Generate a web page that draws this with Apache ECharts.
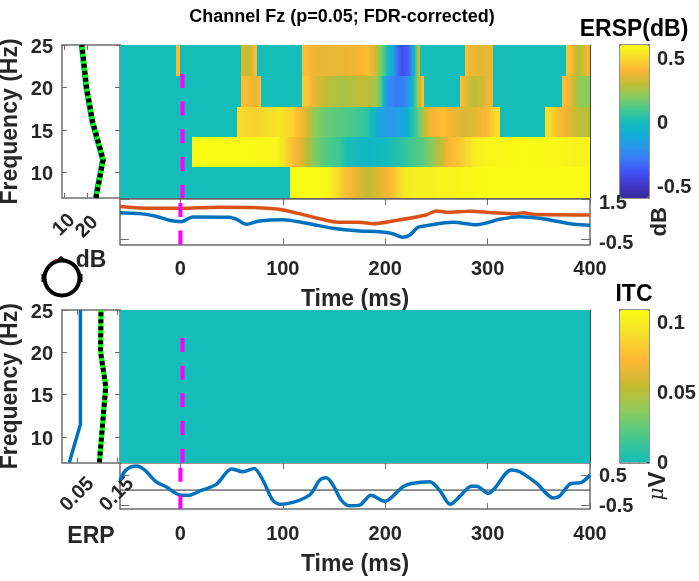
<!DOCTYPE html>
<html><head><meta charset="utf-8">
<style>html,body{margin:0;padding:0;background:#fff}#c{width:699px;height:581px}</style>
<script src="https://cdn.jsdelivr.net/npm/echarts@6/dist/echarts.min.js"></script>
</head><body><div id="c"></div>
<script>
// ---- data ----
const timeMin = -59, timeMax = 400;
const timeTicks = [0, 100, 200, 300, 400];
const freqTicks = [10, 15, 20, 25];
const freqEdges = [7, 10.6, 14.2, 17.7, 21.4, 25];
// ERSP cells: [start time, dB], each lasting until the next start; exactly 0 = masked (not significant)
const ersp8 = [[-59,0],[107,.6],[139,.58],[151,.47],[162,.38],[175,.3],[190,.35],[201,.42],[211,.5],[219,.6]];
const ersp12 = [[-59,0],[11,.6],[87,.58],[100,.47],[110,.38],[120,.28],[128,.18],[136,.12],[149,.08],[162,-.05],[196,-.01],[209,.05],[226,.13],[245,.25],[255,.38],[266.5,.45],[281,.55],[294,.6],[372,.57]];
const ersp16 = [[-59,0],[55.4,.5],[64,.47],[84,.53],[110,.42],[120,.33],[128,.2],[136,.15],[149,.12],[170,.08],[180,.04],[186,-.05],[193,-.2],[212.5,-.15],[221,-.05],[225,.08],[234,.25],[240,.38],[248,.42],[266.5,.33],[289,.38],[297,.42],[304,.5],[312.5,0],[356.5,.5],[365,.42],[375,.35],[385,.28]];
const ersp20 = [[-59,0],[59.6,.42],[67.5,.36],[75.5,.42],[79,0],[119,.45],[128,.33],[142,.25],[170,.3],[190,.2],[194,.12],[198,-.15],[203,-.3],[219,-.22],[224,-.05],[229,.2],[234,.42],[237.5,0],[273.5,.42],[277.7,.28],[295.6,.38],[305,0],[372.8,.42],[380,.33],[385,.2]];
const ersp24 = [[-59,0],[-4.2,.42],[0,0],[59.6,.33],[64,.3],[71,.42],[75,0],[119,.42],[127,.36],[149,.37],[175,.42],[190,.25],[195,.13],[201,-.03],[206,-.15],[211,-.42],[222,-.3],[226,-.1],[230,.3],[234,0],[278,.42],[283,.35],[301,.38],[305.5,0],[376.4,.43],[384,.28],[389,.3],[395,.38]];
const itcRow = [[-59,0]];
// power spectrum (dB vs Hz)
const specFreq = [7, 11.5, 16, 20, 25];
const specDb = [23.9, 27, 22.4, 19.8, 17.8];
const specBase = [23.6, 26.7, 22.1, 19.5, 17.5];
// ITC marginal
const itcFreq = [7, 11.5, 16, 20, 25];
const itcErp = [.03, .058, .058, .058, .058];
const itcSig = [.106, .114, .122, .109, .11];
// time courses
const ersp1 = [[-59,1.14],[-40,1.075],[-1,1.06],[38,1.11],[71,1.09],[100,.975],[129,.625],[155,.36],[175,.36],[188,.29],[207.6,.425],[240,.725],[250,.925],[260,.86],[282.5,.91],[305,.84],[328,.79],[335,.84],[344,.76],[400,.725]];
const ersp2 = [[-59,.84],[-40,.79],[-24,.66],[-11,.46],[1,.39],[12,.625],[48,.61],[56,.475],[64,.26],[77,.425],[100,.49],[123,.31],[149,.06],[175,-.075],[194.5,-.11],[207.6,-.21],[217,-.39],[224,-.275],[232,.11],[240,.19],[266,.36],[289,.24],[312,.51],[331,.64],[351,.56],[384,.26],[400,.21]];
const erp = [[-59,.33],[-53,.67],[-43,.8],[-35,.67],[-24,.28],[-14,.11],[.6,-.17],[9,-.17],[19,-.03],[35,.19],[50,.7],[61,.61],[72,.72],[80.5,.33],[90,-.33],[97,-.47],[103,-.46],[126,-.17],[136,.33],[142.5,.41],[149,.17],[157,-.33],[165,-.52],[175,-.5],[186,-.17],[199.4,-.37],[217.4,.11],[225.6,.22],[243.4,.28],[253,0],[263.5,-.47],[272.7,-.22],[284,.13],[289,.13],[301,-.11],[307,.06],[323,.67],[331.5,.61],[348,.22],[364,-.26],[370.6,-.19],[380.5,.2],[392,.26],[400,.5]];
const colormap = ['#3a2a9a','#4038c8','#4050f5','#3a78f8','#2a98ea','#10aed6','#14bdb8','#45c98c','#8ccb5c','#c4bb30','#fdb534','#f7dc2c','#f9fb15'];
// ---- drawing ----
const FONT = 'Liberation Sans', INK = '#262626', BOX = '#6e6e6e', DARK = '#404040';
const BLUE = '#0072BD', ORANGE = '#D95319', MAG = '#ff00ff';
const L = 120, W = 470, ML = 62, MW = 58;
const grids = [
  {left:ML,top:45,width:MW,height:153},{left:L,top:45,width:W,height:153},{left:L,top:199,width:W,height:45.5},
  {left:ML,top:310,width:MW,height:152.5},{left:L,top:310,width:W,height:152.5},{left:L,top:463,width:W,height:46},
  {left:620,top:45,width:29,height:153},{left:620,top:310,width:29,height:152.5}].map(g=>Object.assign(g,{outerBoundsMode:'none',containLabel:false}));
const lab = {fontFamily:FONT,fontWeight:'bold',fontSize:20,color:INK};
const nameS = {fontFamily:FONT,fontWeight:'bold',fontSize:23,color:INK};
const noLabel = {show:false};
function line(c,w){return {show:true,onZero:false,lineStyle:{color:c,width:w}};}
function tick(vals,len,c){return {show:true,inside:true,length:len,customValues:vals,lineStyle:{color:c||BOX,width:1}};}
const xAxis = [], yAxis = [];
function ax(list,o){list.push(Object.assign({splitLine:{show:false},axisTick:{show:false},axisLabel:noLabel,axisLine:{show:false}},o));return list.length-1;}
function box(g,xo,yo,c,w){
  const xa=ax(xAxis,Object.assign({gridIndex:g,type:'value',position:'bottom',axisLine:line(c,w)},xo));
  ax(xAxis,{gridIndex:g,type:'value',position:'top',min:xo.min,max:xo.max,axisLine:line(c,w),axisTick:xo.axisTick||{show:false}});
  const ya=ax(yAxis,Object.assign({gridIndex:g,type:'value',position:'left',axisLine:line(c,w)},yo));
  ax(yAxis,{gridIndex:g,type:'value',position:'right',min:yo.min,max:yo.max,axisLine:line(c,w),axisTick:yo.axisTick||{show:false}});
  return [xa,ya];
}
const series = [];
function pl(axes,data,color,width,extra){series.push(Object.assign({type:'line',xAxisIndex:axes[0],yAxisIndex:axes[1],data:data,symbol:'none',silent:true,lineStyle:{color:color,width:width}},extra||{}));}
const freqName = {name:'Frequency (Hz)',nameLocation:'middle',nameGap:40,nameTextStyle:nameS,nameRotate:90};
// side labels sit a little below their ticks in the reference: a rich token with top padding shifts them
function sideLabel(vals,pad,margin){return {show:true,customValues:vals,margin:margin,formatter:v=>'{a|'+v+'}',rich:{a:{...lab,padding:[pad,0,0,0]}},showMinLabel:true,showMaxLabel:true,hideOverlap:false,...lab};}
function rotLabel(vals,margin){return {show:true,customValues:vals,rotate:45,align:'center',verticalAlign:'middle',margin:margin,showMinLabel:true,showMaxLabel:true,hideOverlap:false,...lab};}
const freqLabel = sideLabel(freqTicks,4,9);
const specMin=9.1, specMax=34.3;
const a0=box(0,{min:specMin,max:specMax,axisTick:tick([10,20],5),axisLabel:rotLabel([10],27)},
  {min:7,max:25,axisTick:tick(freqTicks,5),axisLabel:freqLabel,...freqName},BOX,1.5);
// the "20" label sits so close to "10" that it needs its own axis to stay visible
ax(xAxis,{gridIndex:0,type:'value',position:'bottom',min:specMin,max:specMax,axisLabel:rotLabel([20],29)});
const zipS=(f,v)=>f.map((h,i)=>[v[i],h]);
pl(a0,zipS(specFreq,specBase),BLUE,5);
pl(a0,zipS(specFreq,specDb),'#00ff00',5,{z:3});
pl(a0,zipS(specFreq,specDb),'#000',5,{z:4});
series[series.length-1].lineStyle.type=[4,3];
// colour lookup on the same stops as the visual map, for the soft shading inside runs of significant cells
function colorOf(v,lo,hi,stops){return echarts.color.lerp(Math.min(1,Math.max(0,(v-lo)/(hi-lo))),stops);}
function cells(rows){const out=[];rows.forEach((r,i)=>r.forEach((s,j)=>{
  const e=j+1<r.length?r[j+1][0]:timeMax;
  const prev=j>0?r[j-1][1]:0,next=j+1<r.length?r[j+1][1]:0,v=s[1];
  const pv=(prev!==0&&v!==0)?(prev+v)/2:v,nv=(next!==0&&v!==0)?(next+v)/2:v;
  out.push([s[0],e,freqEdges[i],freqEdges[i+1],v,pv,nv]);}));return out;}
function heat(axes,rows,lo,hi,stops){series.push({type:'custom',xAxisIndex:axes[0],yAxisIndex:axes[1],silent:true,data:cells(rows),encode:{x:[0,1],y:[2,3]},
  renderItem:function(p,api){const a=api.coord([api.value(0),api.value(2)]),b=api.coord([api.value(1),api.value(3)]);
    const x0=Math.round(a[0]),x1=Math.round(b[0]),y0=Math.round(b[1]),y1=Math.round(a[1]);
    const v=api.value(4),pv=api.value(5),nv=api.value(6);
    const fill=(pv===v&&nv===v)?api.visual('color'):new echarts.graphic.LinearGradient(0,0,1,0,[
      {offset:0,color:colorOf(pv,lo,hi,stops)},{offset:.5,color:api.visual('color')},{offset:1,color:colorOf(nv,lo,hi,stops)}]);
    return {type:'rect',shape:{x:x0,y:y0,width:x1-x0,height:y1-y0},style:{fill:fill}};}});return series.length-1;}
const a1=box(1,{min:timeMin,max:timeMax},{min:7,max:25},DARK,1);
const h1=heat(a1,[ersp8,ersp12,ersp16,ersp20,ersp24],-.6,.6,colormap);
pl(a1,[[2,21.6],[2,7]],MAG,4,{z:5});series[series.length-1].lineStyle.type=[14,13.7];
const timeX={min:timeMin,max:timeMax,axisTick:tick(timeTicks,6),axisLabel:{show:true,customValues:timeTicks,margin:15,showMinLabel:true,showMaxLabel:true,...lab},name:'Time (ms)',nameLocation:'middle',nameGap:44,nameTextStyle:nameS};
const a2=box(2,timeX,{min:-.75,max:1.52,axisTick:tick([-.5,1.5],9)},BOX,1.5);
Object.assign(yAxis[yAxis.length-1],{axisTick:tick([-.5,1.5],9),axisLabel:sideLabel([-.5,1.5],8,9),name:'dB',nameLocation:'middle',nameGap:59,nameRotate:90,nameTextStyle:{...nameS,fontSize:22}});
pl(a2,ersp1,ORANGE,3.5,{smooth:.3});
pl(a2,ersp2,BLUE,3.5,{smooth:.3});
pl(a2,[[0,1.325],[0,-.75]],MAG,4);series[series.length-1].lineStyle.type=[14,13.7];
const a3=box(3,{min:.0115,max:.158,axisTick:tick([.05,.15],5),axisLabel:rotLabel([.05,.15],32)},
  {min:7,max:25,axisTick:tick(freqTicks,5),axisLabel:freqLabel,...freqName},BOX,1.5);
pl(a3,zipS(itcFreq,itcErp),BLUE,3.5);
pl(a3,zipS(itcFreq,itcSig),'#00ff00',5,{z:3});
pl(a3,zipS(itcFreq,itcSig),'#000',5,{z:4});
series[series.length-1].lineStyle.type=[4,3];
const a4=box(4,{min:timeMin,max:timeMax},{min:7,max:25},DARK,1);
const h2=heat(a4,[itcRow,itcRow,itcRow,itcRow,itcRow],0,.1086,colormap.slice(6));
pl(a4,[[2,21.7],[2,7]],MAG,4,{z:5});series[series.length-1].lineStyle.type=[14,13.7];
const a5=box(5,{...timeX},{min:-.63,max:.9,axisTick:tick([-.5,.5],9)},BOX,1.5);
Object.assign(yAxis[yAxis.length-1],{axisTick:tick([-.5,.5],9),axisLabel:sideLabel([-.5,.5],2,9),name:'{m|μ}V',nameLocation:'middle',nameGap:56,nameRotate:90,
  nameTextStyle:{...nameS,fontSize:24,rich:{m:{fontFamily:'DejaVu Serif',fontStyle:'italic',fontWeight:'normal',fontSize:20,color:INK}}}});
pl(a5,[[timeMin,0],[timeMax,0]],INK,1);
pl(a5,erp,BLUE,3.5,{smooth:.3});
pl(a5,[[0,.74],[0,-.63]],MAG,4);series[series.length-1].lineStyle.type=[14,13.7];
box(6,{min:0,max:1,axisTick:tick([.33,.67],2,'#333')},{min:-.6,max:.6},BOX,1.5);
Object.assign(yAxis[yAxis.length-1],{axisTick:tick([-.5,0,.5],2,'#333'),axisLabel:sideLabel([-.5,0,.5],4,8)});
box(7,{min:0,max:1,axisTick:tick([.33,.67],2,'#333')},{min:0,max:.1086},BOX,1.5);
Object.assign(yAxis[yAxis.length-1],{axisTick:tick([0,.05,.1],2,'#333'),axisLabel:sideLabel([0,.05,.1],2,8)});
function vm(idx,min,max,top,h,colors){return {type:'continuous',seriesIndex:idx,dimension:4,min:min,max:max,left:620,top:top,itemWidth:29,itemHeight:h,padding:0,text:['',''],showLabel:false,calculable:false,hoverLink:false,inRange:{color:colors},textStyle:{fontSize:1}};}
function txt(x,y,t,size,color,weight){return {type:'text',x:x,y:y,z:50,style:{text:t,fontFamily:FONT,fontWeight:weight||'bold',fontSize:size,fill:color||INK,align:'center',verticalAlign:'middle'}};}
const chart=echarts.init(document.getElementById('c'),null,{renderer:'canvas'});
chart.setOption({animation:false,backgroundColor:'#fff',grid:grids,xAxis:xAxis,yAxis:yAxis,series:series,
  visualMap:[vm(h1,-.6,.6,45,153,colormap),vm(h2,0,.1086,310,152.5,colormap.slice(6))],
  graphic:[
    txt(342,17,'Channel Fz (p=0.05; FDR-corrected)',18,'#000'),
    txt(634,30,'ERSP(dB)',23,'#000'),
    txt(634,295,'ITC',23,'#000'),
    txt(91,261,'dB',23),
    txt(91,537,'ERP',23),
    {type:'circle',z:50,shape:{cx:62,cy:278,r:17.5},style:{fill:'none',stroke:'#000',lineWidth:4}},
    {type:'polygon',z:50,shape:{points:[[55,261],[61,256],[67,261]]},style:{fill:'#000'}},
    {type:'rect',z:50,shape:{x:41.5,y:274,width:3,height:8},style:{fill:'#000'}},
    {type:'rect',z:50,shape:{x:79.5,y:274,width:3,height:8},style:{fill:'#000'}},
    {type:'circle',z:51,shape:{cx:55.5,cy:260,r:1},style:{fill:'#f00'}}
  ]});
</script></body></html>
